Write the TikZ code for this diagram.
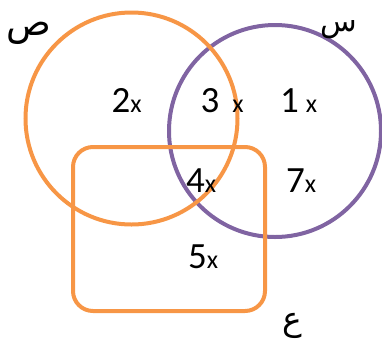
\documentclass[tikz,border=0pt]{standalone}
\usepackage{fontspec}
\setmainfont{Carlito}
\newfontfamily\arabicfont[Script=Arabic]{DejaVu Sans}
\TeXXeTstate=1
\definecolor{setorange}{HTML}{F79646}
\definecolor{setpurple}{HTML}{8064A2}
\begin{document}
\begin{tikzpicture}[x=1pt,y=-1pt,
  ring/.style={line width=4pt},
  num/.style={inner sep=0pt,anchor=base west,font=\fontsize{37}{40}\selectfont},
  arlabel/.style={inner sep=0pt,font=\arabicfont\fontsize{33}{36}\selectfont}]
\useasboundingbox (0,0) rectangle (382,341);
\node[circle,draw=setpurple,ring,minimum size=212pt,inner sep=0pt] (S) at (275,131) {};
\node[circle,draw=setorange,ring,minimum size=212pt,inner sep=0pt] (P) at (131.5,118.5) {};
\node[rectangle,rounded corners=20pt,draw=setorange,ring,minimum width=192pt,minimum height=164pt,inner sep=0pt] (E) at (169,229) {};
\node[num] (n2) at (111.5,112) {2{\fontsize{26}{30}\selectfont x}};
\node[num] (n3) at (200.5,112) {3\hspace{13pt}{\fontsize{26}{30}\selectfont x}};
\node[num] (n1) at (280,112) {1\hspace{7pt}{\fontsize{26}{30}\selectfont x}};
\node[num] (n4) at (186,192) {4{\fontsize{26}{30}\selectfont x}};
\node[num] (n7) at (286,192) {7{\fontsize{26}{30}\selectfont x}};
\node[num] (n5) at (188,268) {5{\fontsize{26}{30}\selectfont x}};
\node[arlabel,font=\arabicfont\fontsize{37}{40}\selectfont] (lP) at (29,33) {\beginR ص\endR};
\node[arlabel,font=\arabicfont\fontsize{30}{34}\selectfont] (lS) at (339,30) {\beginR س\endR};
\node[arlabel] (lE) at (292,326) {\beginR ع\endR};
\end{tikzpicture}
\end{document}
